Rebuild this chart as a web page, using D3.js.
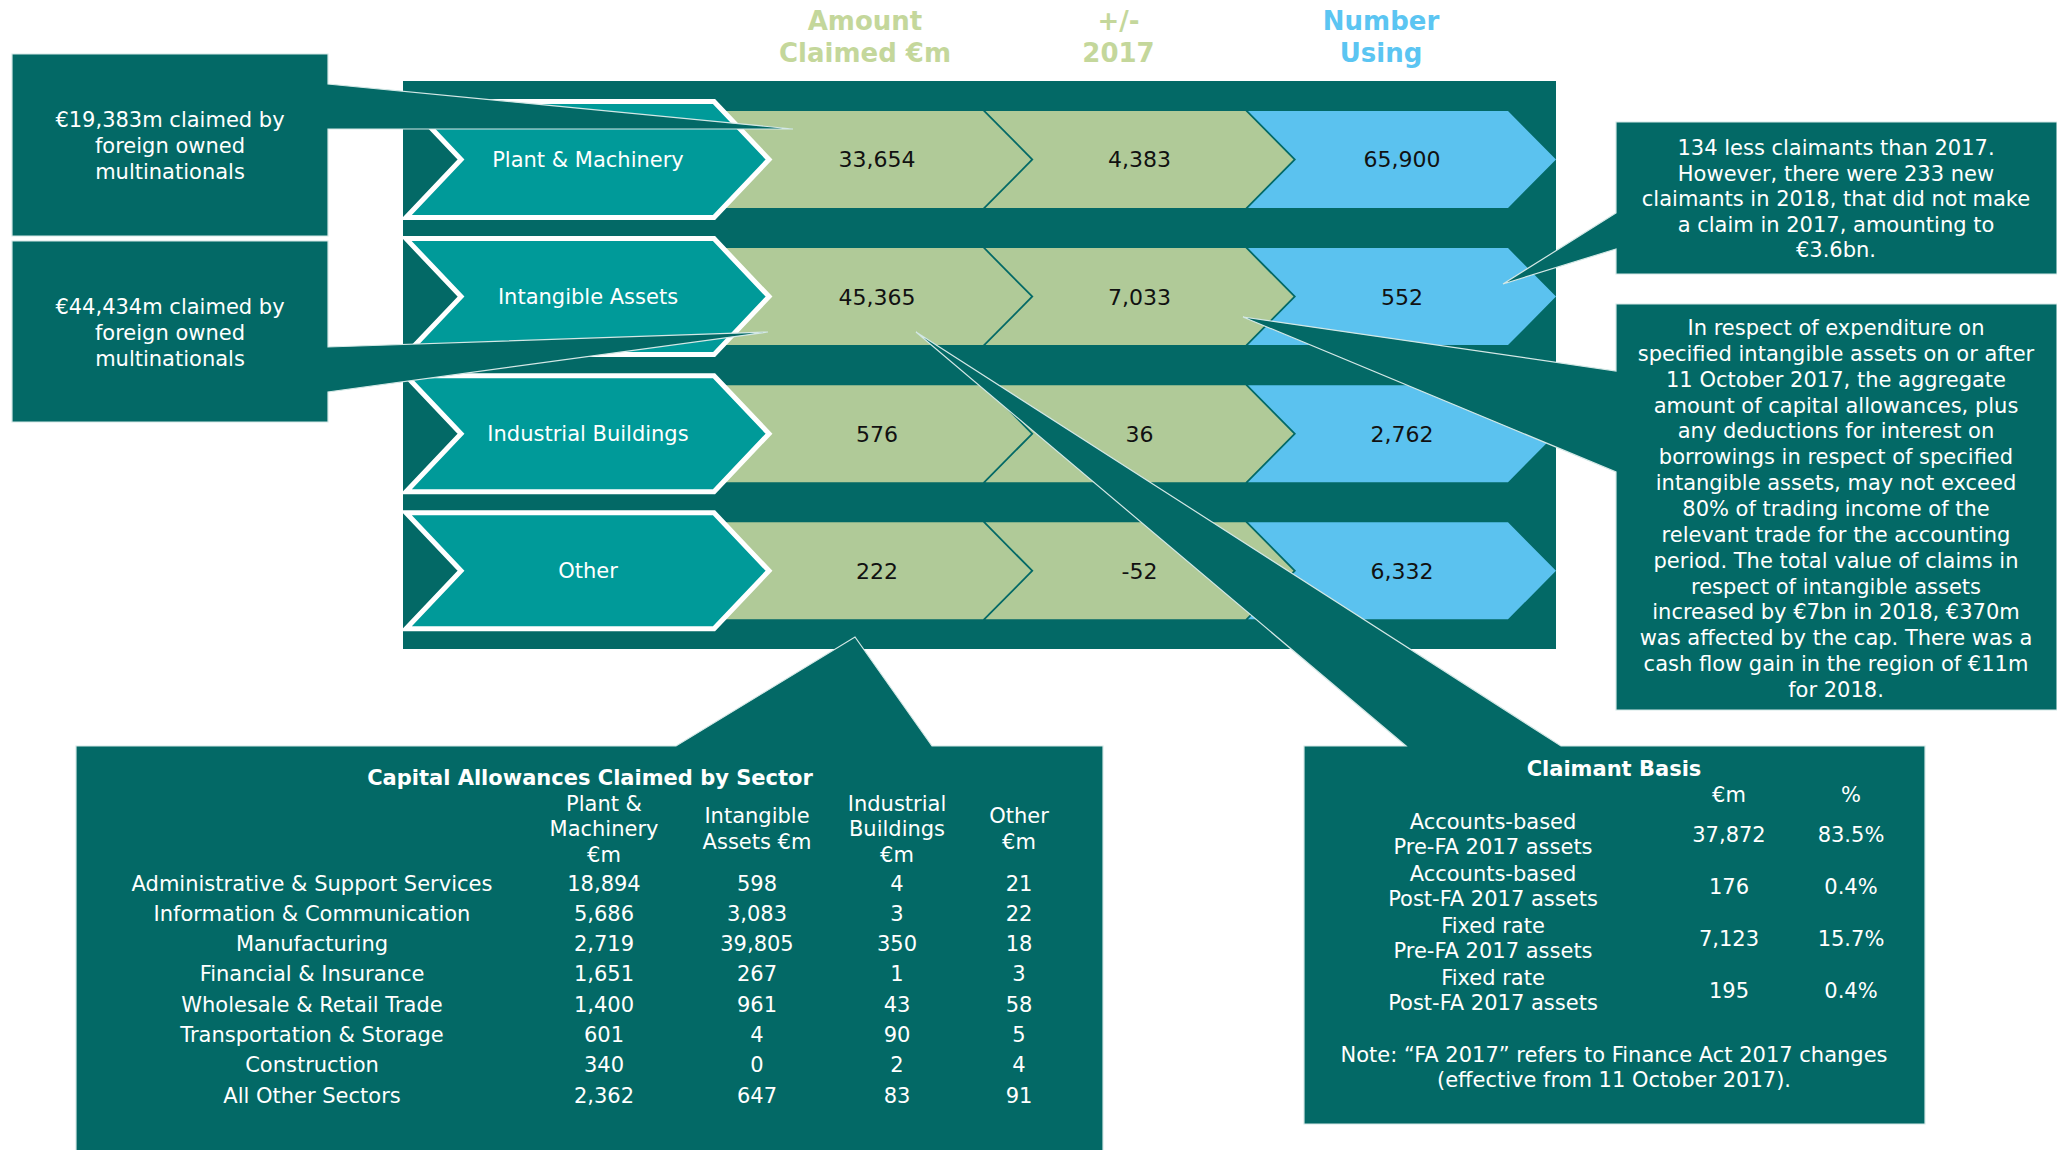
<!DOCTYPE html>
<html><head><meta charset="utf-8">
<script src="https://cdn.jsdelivr.net/npm/d3@7"></script>
<style>html,body{margin:0;padding:0;background:#fff;} svg{display:block;font-family:"DejaVu Sans",Verdana,sans-serif;}</style>
</head><body>
<script>
// ---------------- DATA ----------------
const categories = ["Plant & Machinery","Intangible Assets","Industrial Buildings","Other"];
const amountClaimed = [33654, 45365, 576, 222];
const change2017 = [4383, 7033, 36, -52];
const numberUsing = [65900, 552, 2762, 6332];
const columnKeys = ["amount","change","number"];
const columnHeaders = [["Amount","Claimed €m"],["+/-","2017"],["Number","Using"]];

const sectors = ["Administrative & Support Services","Information & Communication","Manufacturing","Financial & Insurance","Wholesale & Retail Trade","Transportation & Storage","Construction","All Other Sectors"];
const sectorPlant = [18894, 5686, 2719, 1651, 1400, 601, 340, 2362];
const sectorIntangible = [598, 3083, 39805, 267, 961, 4, 0, 647];
const sectorIndustrial = [4, 3, 350, 1, 43, 90, 2, 83];
const sectorOther = [21, 22, 18, 3, 58, 5, 4, 91];
const sectorHeaders = [["Plant &","Machinery","€m"],["Intangible","Assets €m"],["Industrial","Buildings","€m"],["Other","€m"]];
const sectorTitle = "Capital Allowances Claimed by Sector";

const basisLabels = [["Accounts-based","Pre-FA 2017 assets"],["Accounts-based","Post-FA 2017 assets"],["Fixed rate","Pre-FA 2017 assets"],["Fixed rate","Post-FA 2017 assets"]];
const basisAmount = [37872, 176, 7123, 195];
const basisPct = [83.5, 0.4, 15.7, 0.4];
const basisHeaders = ["€m","%"];
const basisTitle = "Claimant Basis";
const basisNote = ["Note: “FA 2017” refers to Finance Act 2017 changes","(effective from 11 October 2017)."];

const noteLeft1 = ["€19,383m claimed by","foreign owned","multinationals"];
const noteLeft2 = ["€44,434m claimed by","foreign owned","multinationals"];
const noteRight1 = ["134 less claimants than 2017.","However, there were 233 new","claimants in 2018, that did not make","a claim in 2017, amounting to","€3.6bn."];
const noteRight2 = ["In respect of expenditure on","specified intangible assets on or after","11 October 2017, the aggregate","amount of capital allowances, plus","any deductions for interest on","borrowings in respect of specified","intangible assets, may not exceed","80% of trading income of the","relevant trade for the accounting","period. The total value of claims in","respect of intangible assets","increased by €7bn in 2018, €370m","was affected by the cap. There was a","cash flow gain in the region of €11m","for 2018."];

// ---------------- STYLE ----------------
const COL = {dark:"#036966", teal:"#009a99", green:"#b0ca98", blue:"#5bc2ef",
             hdrGreen:"#c4d79b", hdrBlue:"#5bc5f2", outline:"#d4e8e6", text:"#111"};
const W = 2057, H = 1150;
const svg = d3.select("body").append("svg").attr("width", W).attr("height", H);
const locale = d3.formatLocale({decimal:".", thousands:",", grouping:[3], currency:["€",""], minus:"-"});
const fmt = locale.format(",");
const fmtPct = locale.format(".1f");

// ---------------- SCALES ----------------
const y = d3.scalePoint().domain(categories).range([159.5, 570.8]);
const x = d3.scaleBand().domain(columnKeys).range([723, 1510.5]);
const chevW = x.bandwidth() - 2.5, tip = 48, halfH = 48.5;
const hdrShift = {amount:-12, change:-21, number:-21};

function chevron(x0, x1, c, h, d, notch){
  const pts = [[x0,c-h],[x1,c-h],[x1+d,c],[x1,c+h],[x0,c+h]];
  if (notch) pts.push([x0+d,c]);
  return "M" + pts.map(p=>p.join(",")).join("L") + "Z";
}

// background
svg.append("rect").attr("x",403).attr("y",81).attr("width",1153).attr("height",568).attr("fill",COL.dark);

// column headers
columnKeys.forEach((k,i)=>{
  const cx = x(k) + chevW/2 + tip/2 + hdrShift[k];
  const t = svg.append("text").attr("x",cx).attr("text-anchor","middle")
    .attr("font-size",26).attr("font-weight","bold")
    .attr("fill", k==="number"?COL.hdrBlue:COL.hdrGreen);
  columnHeaders[i].forEach((ln,j)=>t.append("tspan").attr("x",cx).attr("y",30+j*32).text(ln));
});

const series = {amount:amountClaimed, change:change2017, number:numberUsing};
categories.forEach((cat,r)=>{
  const c = y(cat);
  columnKeys.forEach((k,i)=>{
    const x0 = x(k);
    svg.append("path")
      .attr("d", chevron(i===0?700:x0, x0+chevW, c, halfH, tip, i>0))
      .attr("fill", k==="number"?COL.blue:COL.green);
    svg.append("text").attr("x", x0 + chevW/2 + tip/2).attr("y", c).attr("dy","0.36em")
      .attr("text-anchor","middle").attr("font-size",22).attr("fill",COL.text)
      .text(fmt(series[k][r]));
  });
  // label chevron
  svg.append("path").attr("d", chevron(406, 714, c, 58, 55, true))
    .attr("fill",COL.teal).attr("stroke","#fff").attr("stroke-width",5).attr("stroke-linejoin","miter");
  svg.append("text").attr("x",588).attr("y",c).attr("dy","0.36em").attr("text-anchor","middle")
    .attr("font-size",21).attr("fill","#fff").text(cat);
});

// ---------------- CALLOUTS ----------------
function callout(d){
  svg.append("path").attr("d",d).attr("fill",COL.dark).attr("stroke",COL.outline).attr("stroke-width",1.2);
}
function lines(arr, cx, y0, lh, opts={}){
  const t = svg.append("text").attr("text-anchor","middle").attr("font-size",opts.size||21)
    .attr("fill","#fff").attr("font-weight",opts.bold?"bold":"normal");
  arr.forEach((ln,j)=>t.append("tspan").attr("x",cx).attr("y",y0+j*lh).text(ln));
}

// wedges/callouts drawn over the chevrons
callout("M1304,746H1406L916,332L1561,746H1925V1124H1304Z");
callout("M76,746H676L855,637L932,746H1103V1152H76Z");
callout("M1616,304H2057V710H1616V472L1243,317L1616,371Z");
callout("M1616,122H2057V274H1616V249L1503,284L1616,213Z");
callout("M12,54H328V84L793,129L328,129V236H12Z");
callout("M12,241H328V347L768,332L328,392V422H12Z");

lines(noteLeft1, 170, 127, 26);
lines(noteLeft2, 170, 314, 26);
lines(noteRight1, 1836, 155, 25.6);
lines(noteRight2, 1836, 335, 25.85);

// ---------------- SECTOR TABLE ----------------
lines([sectorTitle], 590, 785, 0, {bold:true});
const tcols = ["plant","intangible","industrial","other"];
const tx = d3.scaleOrdinal().domain(tcols).range([604, 757, 897, 1019]);
const tvals = {plant:sectorPlant, intangible:sectorIntangible, industrial:sectorIndustrial, other:sectorOther};
tcols.forEach((k,i)=>{
  const hl = sectorHeaders[i];
  lines(hl, tx(k), 836 - (hl.length-1)*25.5/2, 25.5);
});
const ty = d3.scalePoint().domain(sectors).range([890.5, 1102.6]);
sectors.forEach((s,r)=>{
  lines([s], 312, ty(s), 0);
  tcols.forEach(k=>lines([fmt(tvals[k][r])], tx(k), ty(s), 0));
});

// ---------------- CLAIMANT BASIS ----------------
lines([basisTitle], 1614, 776, 0, {bold:true});
const bcols = ["amount","pct"];
const bx = d3.scaleOrdinal().domain(bcols).range([1729, 1851]);
bcols.forEach((k,i)=>lines([basisHeaders[i]], bx(k), 802, 0));
const by = d3.scalePoint().domain(d3.range(basisLabels.length)).range([829, 985]);
basisLabels.forEach((lb,r)=>{
  lines(lb, 1493, by(r), 25);
  lines([fmt(basisAmount[r])], bx("amount"), by(r)+12.5, 0);
  lines([fmtPct(basisPct[r])+"%"], bx("pct"), by(r)+12.5, 0);
});
lines(basisNote, 1614, 1062, 25);
</script>
</body></html>
